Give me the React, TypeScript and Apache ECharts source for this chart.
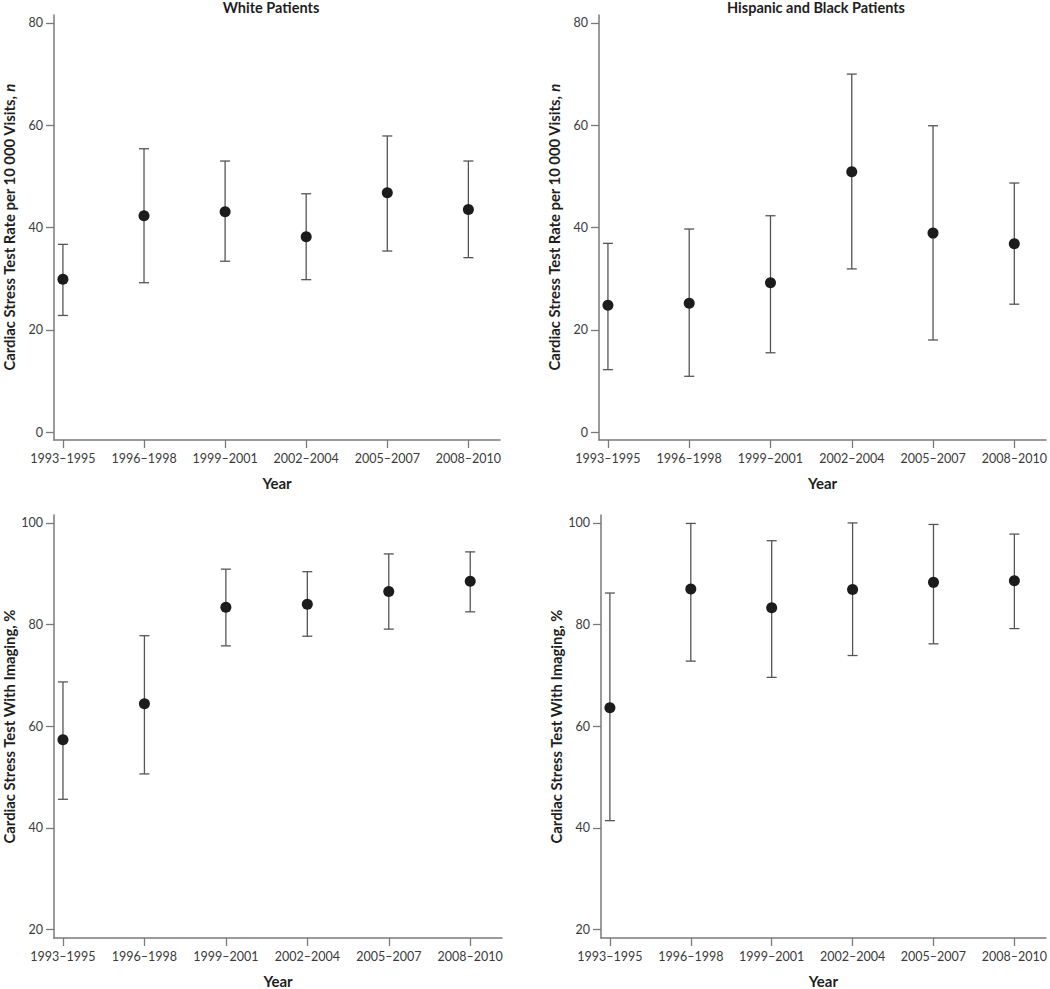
import React, { useEffect, useRef } from "react";
import * as echarts from "echarts";

const categories = ["1993–1995", "1996–1998", "1999–2001", "2002–2004", "2005–2007", "2008–2010"];

// Top-left: White patients, rate per 10 000 visits
const whiteRate = [29.9, 42.3, 43.1, 38.2, 46.8, 43.5];
const whiteRateLow = [22.8, 29.2, 33.4, 29.8, 35.4, 34.1];
const whiteRateHigh = [36.7, 55.4, 53.0, 46.6, 57.9, 53.0];

// Top-right: Hispanic and Black patients, rate per 10 000 visits
const minorityRate = [24.8, 25.2, 29.2, 50.9, 38.9, 36.8];
const minorityRateLow = [12.2, 10.9, 15.5, 31.9, 18.0, 25.0];
const minorityRateHigh = [36.9, 39.7, 42.3, 70.0, 59.9, 48.7];

// Bottom-left: White patients, % with imaging
const whiteImaging = [57.3, 64.4, 83.4, 84.0, 86.5, 88.5];
const whiteImagingLow = [45.6, 50.6, 75.8, 77.7, 79.1, 82.5];
const whiteImagingHigh = [68.7, 77.8, 90.9, 90.4, 93.9, 94.3];

// Bottom-right: Hispanic and Black patients, % with imaging
const minorityImaging = [63.6, 87.0, 83.3, 86.9, 88.3, 88.6];
const minorityImagingLow = [41.4, 72.8, 69.6, 73.9, 76.2, 79.2];
const minorityImagingHigh = [86.2, 99.9, 96.5, 100.0, 99.7, 97.8];

const rateTicks = [0, 20, 40, 60, 80];
const imagingTicks = [20, 40, 60, 80, 100];

const titles = ["White Patients", "Hispanic and Black Patients"];
const rateAxisName = "Cardiac Stress Test Rate per 10 000 Visits, {i|n}";
const imagingAxisName = "Cardiac Stress Test With Imaging, %";
const xAxisName = "Year";

const FONT = "Lato, 'Open Sans', sans-serif";
const AXIS_COLOR = "#7a7a7a";
const LABEL_COLOR = "#3a3a3a";
const NAME_COLOR = "#1e1e1e";
const BAR_COLOR = "#555555";
const DOT_COLOR = "#1c1c1c";

export default function App() {
  const ref = useRef<HTMLDivElement>(null);

  useEffect(() => {
    if (!ref.current) return;
    const chart = echarts.init(ref.current, null, { renderer: "svg" });

    const panels = [
      { grid: { left: 53, top: 15, width: 447, height: 425 }, v: whiteRate, lo: whiteRateLow, hi: whiteRateHigh, ticks: rateTicks, ymin: -1.56, ymax: 81.56, name: rateAxisName },
      { grid: { left: 599, top: 15, width: 447, height: 425 }, v: minorityRate, lo: minorityRateLow, hi: minorityRateHigh, ticks: rateTicks, ymin: -1.56, ymax: 81.56, name: rateAxisName },
      { grid: { left: 54, top: 515, width: 448, height: 426 }, v: whiteImaging, lo: whiteImagingLow, hi: whiteImagingHigh, ticks: imagingTicks, ymin: 18.3, ymax: 101.56, name: imagingAxisName },
      { grid: { left: 601, top: 515, width: 446, height: 426 }, v: minorityImaging, lo: minorityImagingLow, hi: minorityImagingHigh, ticks: imagingTicks, ymin: 18.3, ymax: 101.56, name: imagingAxisName },
    ];

    const catIdx = categories.map((_, i) => i);

    const grids = panels.map((p) => ({ ...p.grid, containLabel: false }));
    const xAxes = panels.map((p, k) => ({
      type: "value",
      gridIndex: k,
      min: -0.11,
      max: 5.39,
      splitLine: { show: false },
      axisLine: { show: true, onZero: false, lineStyle: { color: AXIS_COLOR, width: 1.5 } },
      axisTick: { show: true, length: 8, customValues: catIdx, lineStyle: { color: AXIS_COLOR, width: 1.3 } },
      axisLabel: {
        customValues: catIdx,
        formatter: (val: number) => categories[Math.round(val)] ?? "",
        color: LABEL_COLOR,
        fontFamily: FONT,
        fontSize: 12.5,
        margin: 12,
      },
      name: xAxisName,
      nameLocation: "middle",
      nameGap: 35,
      nameTextStyle: { fontFamily: FONT, fontWeight: "bold", fontSize: 15, color: NAME_COLOR },
    }));
    const yAxes = panels.map((p, k) => ({
      type: "value",
      gridIndex: k,
      min: p.ymin,
      max: p.ymax,
      splitLine: { show: false },
      axisLine: { show: true, onZero: false, lineStyle: { color: AXIS_COLOR, width: 1.5 } },
      axisTick: { show: true, length: 8, customValues: p.ticks, lineStyle: { color: AXIS_COLOR, width: 1.3 } },
      axisLabel: {
        customValues: p.ticks,
        color: LABEL_COLOR,
        fontFamily: FONT,
        fontSize: 12.5,
        margin: 11,
      },
      name: p.name,
      nameLocation: "middle",
      nameRotate: 90,
      nameGap: 38,
      nameTextStyle: {
        fontFamily: FONT,
        fontWeight: "bold",
        fontSize: 14.8,
        color: NAME_COLOR,
        rich: {
          i: { fontFamily: FONT, fontWeight: "bold", fontStyle: "italic", fontSize: 14.8, color: NAME_COLOR },
        },
      },
    }));

    const series: any[] = [];
    panels.forEach((p, k) => {
      series.push({
        type: "custom",
        xAxisIndex: k,
        yAxisIndex: k,
        z: 2,
        silent: true,
        encode: { x: 0, y: [1, 2] },
        data: p.lo.map((l, i) => [i, l, p.hi[i]]),
        renderItem: (params: any, api: any) => {
          const x = api.value(0);
          const a = api.coord([x, api.value(1)]);
          const b = api.coord([x, api.value(2)]);
          const cap = 5;
          const style = { stroke: BAR_COLOR, lineWidth: 1.3, fill: "none" };
          return {
            type: "group",
            children: [
              { type: "line", shape: { x1: a[0], y1: a[1], x2: b[0], y2: b[1] }, style },
              { type: "line", shape: { x1: a[0] - cap, y1: a[1], x2: a[0] + cap, y2: a[1] }, style },
              { type: "line", shape: { x1: b[0] - cap, y1: b[1], x2: b[0] + cap, y2: b[1] }, style },
            ],
          };
        },
      });
      series.push({
        type: "scatter",
        xAxisIndex: k,
        yAxisIndex: k,
        z: 3,
        symbol: "circle",
        symbolSize: 11,
        itemStyle: { color: DOT_COLOR, opacity: 1 },
        data: p.v.map((v, i) => [i, v]),
      });
    });

    chart.setOption({
      animation: false,
      backgroundColor: "#ffffff",
      title: [
        { text: titles[0], left: 271, top: 0, textAlign: "center", padding: 0, textStyle: { fontFamily: FONT, fontWeight: "bold", fontSize: 14.5, color: NAME_COLOR } },
        { text: titles[1], left: 816, top: 0, textAlign: "center", padding: 0, textStyle: { fontFamily: FONT, fontWeight: "bold", fontSize: 14.5, color: NAME_COLOR } },
      ],
      grid: grids,
      xAxis: xAxes,
      yAxis: yAxes,
      series,
    });

    return () => chart.dispose();
  }, []);

  return <div ref={ref} style={{ position: "absolute", left: 0, top: 0, width: 1050, height: 989 }} />;
}
